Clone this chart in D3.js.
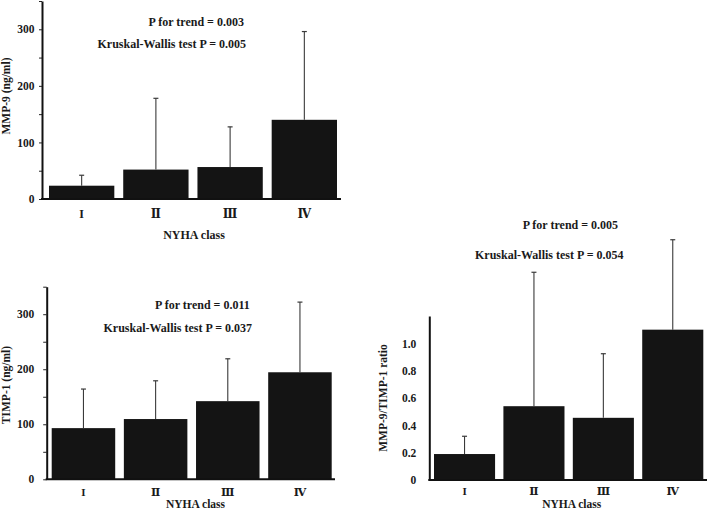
<!DOCTYPE html>
<html>
<head>
<meta charset="utf-8">
<script src="https://cdn.jsdelivr.net/npm/d3@7"></script>
<style>
  html, body { margin: 0; padding: 0; background: #fff; }
  svg { display: block; }
  text { font-family: "Liberation Serif", "DejaVu Serif", serif; font-weight: bold; fill: #1a1a1a; }
</style>
</head>
<body>
<svg id="chart" width="709" height="511"></svg>
<script>
// ---------- data ----------
const categories = ["I", "Ⅱ", "Ⅲ", "Ⅳ"];
const xTitle = "NYHA class";

const mmp9Mean = [23.5, 52, 56.5, 140];
const mmp9Upper = [42, 178, 127.5, 296];
const mmp9Ticks = [0, 100, 200, 300];
const mmp9Minor = [50, 150, 250, 350];
const mmp9Label = "MMP-9 (ng/ml)";
const mmp9Notes = ["P for trend = 0.003", "Kruskal-Wallis test P = 0.005"];

const timp1Mean = [93, 109.5, 142, 194.5];
const timp1Upper = [164, 179, 219, 322];
const timp1Ticks = [0, 100, 200, 300];
const timp1Minor = [50, 150, 250, 350];
const timp1Label = "TIMP-1 (ng/ml)";
const timp1Notes = ["P for trend = 0.011", "Kruskal-Wallis test P = 0.037"];

const ratioMean = [0.19, 0.54, 0.455, 1.10];
const ratioUpper = [0.32, 1.52, 0.924, 1.758];
const ratioTicks = [0, 0.2, 0.4, 0.6, 0.8, 1.0];
const ratioMinor = [];
const ratioLabel = "MMP-9/TIMP-1 ratio";
const ratioNotes = ["P for trend = 0.005", "Kruskal-Wallis test P = 0.054"];

// ---------- layout ----------
const svg = d3.select("#chart");

function drawPanel(p) {
  const g = svg.append("g");
  const y = d3.scaleLinear().domain([0, p.yMax]).range([p.y0, p.yTop]);
  const x = d3.scaleBand().domain(categories).range([p.barStart, p.barEnd])
    .paddingInner(0.12).paddingOuter(0);

  // bars
  g.selectAll("rect.bar").data(p.mean).enter().append("rect")
    .attr("class", "bar")
    .attr("x", (d, i) => x(categories[i]))
    .attr("width", x.bandwidth())
    .attr("y", d => y(d))
    .attr("height", d => y(0) - y(d))
    .attr("fill", "#141414");

  // error bars
  const eb = g.selectAll("g.err").data(p.upper).enter().append("g").attr("class", "err");
  eb.append("line")
    .attr("x1", (d, i) => x(categories[i]) + x.bandwidth() / 2)
    .attr("x2", (d, i) => x(categories[i]) + x.bandwidth() / 2)
    .attr("y1", (d, i) => y(p.mean[i]))
    .attr("y2", d => y(d))
    .attr("stroke", "#3a3a3a").attr("stroke-width", 1.1);
  eb.append("line")
    .attr("x1", (d, i) => x(categories[i]) + x.bandwidth() / 2 - 2.5)
    .attr("x2", (d, i) => x(categories[i]) + x.bandwidth() / 2 + 2.5)
    .attr("y1", d => y(d))
    .attr("y2", d => y(d))
    .attr("stroke", "#3a3a3a").attr("stroke-width", 1.2);

  // y axis: minor ticks
  if (p.minor.length) {
    const minorAx = d3.axisLeft(y).tickValues(p.minor).tickSize(p.tick).tickFormat("").tickSizeOuter(0);
    const gm = g.append("g").attr("transform", `translate(${p.ax},0)`).call(minorAx);
    gm.select(".domain").remove();
    gm.selectAll("line").attr("stroke", "#222").attr("stroke-width", 1);
  }
  const ax = d3.axisLeft(y).tickValues(p.ticks).tickSize(p.tick).tickSizeOuter(0)
    .tickPadding(p.pad)
    .tickFormat(p.fmt);
  const ga = g.append("g").attr("transform", `translate(${p.ax},0)`).call(ax);
  ga.select(".domain").attr("stroke", "#111").attr("stroke-width", 2);
  ga.selectAll(".tick line").attr("stroke", "#222").attr("stroke-width", 1)
    .attr("opacity", p.tick > 0 ? 1 : 0);
  ga.selectAll(".tick text")
    .style("font-family", '"Liberation Serif", serif').style("font-weight", "bold")
    .style("font-size", "11.5px").attr("fill", "#1a1a1a");

  // x axis line
  g.append("line")
    .attr("x1", p.ax - 1).attr("x2", p.xEnd)
    .attr("y1", y(0)).attr("y2", y(0))
    .attr("stroke", "#111").attr("stroke-width", 2);

  // category labels
  g.selectAll("text.cat").data(categories).enter().append("text")
    .attr("class", "cat")
    .attr("x", d => x(d) + x.bandwidth() / 2)
    .attr("y", p.catY)
    .attr("text-anchor", "middle")
    .style("font-size", p.catSize)
    .text(d => d);

  // x title
  g.append("text")
    .attr("x", p.titleX).attr("y", p.titleY)
    .attr("text-anchor", "middle")
    .style("font-size", p.titleSize)
    .text(xTitle);

  // y title
  g.append("text")
    .attr("transform", `translate(${p.ylX},${p.ylY}) rotate(-90)`)
    .attr("text-anchor", "middle")
    .style("font-size", "11.5px")
    .text(p.label);

  // notes
  p.notes.forEach((t, i) => {
    g.append("text")
      .attr("x", p.noteX[i]).attr("y", p.noteY[i])
      .style("font-size", "12px")
      .text(t);
  });
}

drawPanel({
  mean: mmp9Mean, upper: mmp9Upper, ticks: mmp9Ticks, minor: mmp9Minor,
  label: mmp9Label, notes: mmp9Notes, fmt: d3.format("d"),
  yMax: 350, y0: 199, yTop: 1, ax: 42, xEnd: 341, barStart: 49, barEnd: 337,
  tick: 3, pad: 4.5, catY: 218, catSize: "12px", titleX: 194, titleY: 238.5, titleSize: "12px",
  ylX: 10, ylY: 96, noteX: [148.5, 97.5], noteY: [25.5, 47.5]
});

drawPanel({
  mean: timp1Mean, upper: timp1Upper, ticks: timp1Ticks, minor: timp1Minor,
  label: timp1Label, notes: timp1Notes, fmt: d3.format("d"),
  yMax: 350, y0: 479.3, yTop: 286.7, ax: 46.7, xEnd: 335, barStart: 51.7, barEnd: 331.7,
  tick: 3.5, pad: 9, catY: 495.5, catSize: "11px", titleX: 195.5, titleY: 507.8, titleSize: "11.5px",
  ylX: 10, ylY: 385, noteX: [155, 103.5], noteY: [308.5, 331.5]
});

drawPanel({
  mean: ratioMean, upper: ratioUpper, ticks: ratioTicks, minor: ratioMinor,
  label: ratioLabel, notes: ratioNotes, fmt: d => d === 0 ? "0" : d3.format(".1f")(d),
  yMax: 1.2, y0: 480, yTop: 316, ax: 429.3, xEnd: 707, barStart: 434, barEnd: 703.3,
  tick: 0, pad: 13, catY: 495, catSize: "11px", titleX: 571.7, titleY: 508.3, titleSize: "11.5px",
  ylX: 387, ylY: 398, noteX: [522.7, 475], noteY: [229, 258.5]
});
</script>
</body>
</html>
